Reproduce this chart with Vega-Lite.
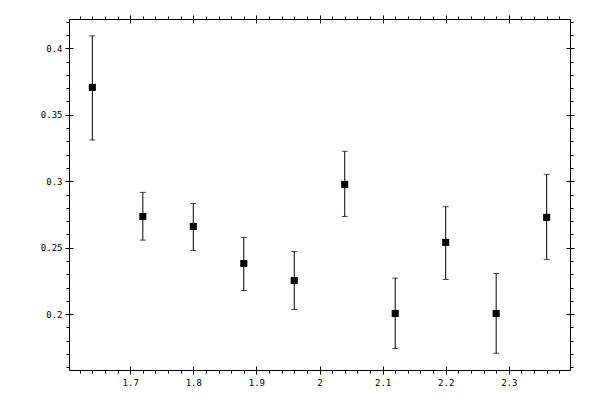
{
  "$schema": "https://vega.github.io/schema/vega-lite/v6.json",
  "autosize": "none",
  "padding": {"left": 69, "top": 19, "right": 30, "bottom": 30},
  "width": 501,
  "height": 351,
  "background": "white",
  "data": {
    "values": [
      {"x": 1.64, "y": 0.3706, "lo": 0.331, "hi": 0.4093},
      {"x": 1.72, "y": 0.2735, "lo": 0.2557, "hi": 0.2916},
      {"x": 1.80, "y": 0.266, "lo": 0.2479, "hi": 0.2833},
      {"x": 1.88, "y": 0.2381, "lo": 0.2178, "hi": 0.2577},
      {"x": 1.96, "y": 0.2253, "lo": 0.2035, "hi": 0.2472},
      {"x": 2.04, "y": 0.2976, "lo": 0.2735, "hi": 0.3225},
      {"x": 2.12, "y": 0.2005, "lo": 0.1742, "hi": 0.2271},
      {"x": 2.20, "y": 0.254, "lo": 0.2261, "hi": 0.2808},
      {"x": 2.28, "y": 0.2005, "lo": 0.1706, "hi": 0.2306},
      {"x": 2.36, "y": 0.2728, "lo": 0.2412, "hi": 0.3052}
    ]
  },
  "layer": [
    {
      "mark": {"type": "rule", "color": "black", "strokeWidth": 1},
      "encoding": {
        "x": {
          "field": "x", "type": "quantitative",
          "scale": {"domain": [1.603, 2.397], "nice": false, "zero": false},
          "axis": {"orient": "bottom", "title": null, "grid": false, "domain": false, "format": "~g",
                   "values": [1.7, 1.8, 1.9, 2, 2.1, 2.2, 2.3], "tickSize": 4, "labelPadding": 4}
        },
        "y": {
          "field": "lo", "type": "quantitative",
          "scale": {"domain": [0.158, 0.422], "nice": false, "zero": false},
          "axis": {"orient": "left", "title": null, "grid": false, "domain": false, "format": "~g",
                   "values": [0.2, 0.25, 0.3, 0.35, 0.4], "tickSize": 4, "labelPadding": 3}
        },
        "y2": {"field": "hi"}
      }
    },
    {
      "mark": {"type": "tick", "orient": "horizontal", "color": "black", "size": 6, "thickness": 1},
      "encoding": {
        "x": {
          "field": "x", "type": "quantitative",
          "axis": {"orient": "bottom", "title": null, "grid": false, "domain": false, "labels": false,
                   "values": [1.7, 1.8, 1.9, 2, 2.1, 2.2, 2.3], "tickSize": -4}
        },
        "y": {
          "field": "hi", "type": "quantitative",
          "axis": {"orient": "left", "title": null, "grid": false, "domain": false, "labels": false,
                   "values": [0.2, 0.25, 0.3, 0.35, 0.4], "tickSize": -4}
        }
      }
    },
    {
      "mark": {"type": "tick", "orient": "horizontal", "color": "black", "size": 6, "thickness": 1},
      "encoding": {
        "x": {
          "field": "x", "type": "quantitative",
          "axis": {"orient": "bottom", "title": null, "grid": false, "domain": false, "labels": false,
                   "values": [1.62, 1.64, 1.66, 1.68, 1.7, 1.72, 1.74, 1.76, 1.78, 1.8, 1.82, 1.84, 1.86, 1.88, 1.9, 1.92, 1.94, 1.96, 1.98, 2, 2.02, 2.04, 2.06, 2.08, 2.1, 2.12, 2.14, 2.16, 2.18, 2.2, 2.22, 2.24, 2.26, 2.28, 2.3, 2.32, 2.34, 2.36, 2.38],
                   "tickSize": 3}
        },
        "y": {
          "field": "lo", "type": "quantitative",
          "axis": {"orient": "left", "title": null, "grid": false, "domain": false, "labels": false,
                   "values": [0.16, 0.17, 0.18, 0.19, 0.2, 0.21, 0.22, 0.23, 0.24, 0.25, 0.26, 0.27, 0.28, 0.29, 0.3, 0.31, 0.32, 0.33, 0.34, 0.35, 0.36, 0.37, 0.38, 0.39, 0.4, 0.41, 0.42],
                   "tickSize": 3}
        }
      }
    },
    {
      "mark": {"type": "square", "filled": true, "color": "black", "size": 50, "opacity": 1},
      "encoding": {
        "x": {
          "field": "x", "type": "quantitative",
          "axis": {"orient": "top", "title": null, "grid": false, "domain": false, "labels": false,
                   "values": [1.7, 1.8, 1.9, 2, 2.1, 2.2, 2.3], "tickSize": 4}
        },
        "y": {
          "field": "y", "type": "quantitative",
          "axis": {"orient": "right", "title": null, "grid": false, "domain": false, "labels": false,
                   "values": [0.2, 0.25, 0.3, 0.35, 0.4], "tickSize": 4}
        }
      }
    },
    {
      "mark": {"type": "square", "opacity": 0},
      "encoding": {
        "x": {
          "field": "x", "type": "quantitative",
          "axis": {"orient": "top", "title": null, "grid": false, "domain": false, "labels": false,
                   "values": [1.7, 1.8, 1.9, 2, 2.1, 2.2, 2.3], "tickSize": -4}
        },
        "y": {
          "field": "y", "type": "quantitative",
          "axis": {"orient": "right", "title": null, "grid": false, "domain": false, "labels": false,
                   "values": [0.2, 0.25, 0.3, 0.35, 0.4], "tickSize": -4}
        }
      }
    },
    {
      "mark": {"type": "square", "opacity": 0},
      "encoding": {
        "x": {
          "field": "x", "type": "quantitative",
          "axis": {"orient": "top", "title": null, "grid": false, "domain": false, "labels": false,
                   "values": [1.62, 1.64, 1.66, 1.68, 1.7, 1.72, 1.74, 1.76, 1.78, 1.8, 1.82, 1.84, 1.86, 1.88, 1.9, 1.92, 1.94, 1.96, 1.98, 2, 2.02, 2.04, 2.06, 2.08, 2.1, 2.12, 2.14, 2.16, 2.18, 2.2, 2.22, 2.24, 2.26, 2.28, 2.3, 2.32, 2.34, 2.36, 2.38],
                   "tickSize": 3}
        },
        "y": {
          "field": "y", "type": "quantitative",
          "axis": {"orient": "right", "title": null, "grid": false, "domain": false, "labels": false,
                   "values": [0.16, 0.17, 0.18, 0.19, 0.2, 0.21, 0.22, 0.23, 0.24, 0.25, 0.26, 0.27, 0.28, 0.29, 0.3, 0.31, 0.32, 0.33, 0.34, 0.35, 0.36, 0.37, 0.38, 0.39, 0.4, 0.41, 0.42],
                   "tickSize": 3}
        }
      }
    }
  ],
  "resolve": {"axis": {"x": "independent", "y": "independent"}},
  "config": {
    "view": {"stroke": "black", "strokeWidth": 1},
    "axis": {
      "tickColor": "black",
      "tickWidth": 1,
      "labelColor": "black",
      "labelFont": "DejaVu Sans Mono",
      "labelFontSize": 9,
      "labelFlush": false,
      "labelOverlap": false
    }
  }
}
